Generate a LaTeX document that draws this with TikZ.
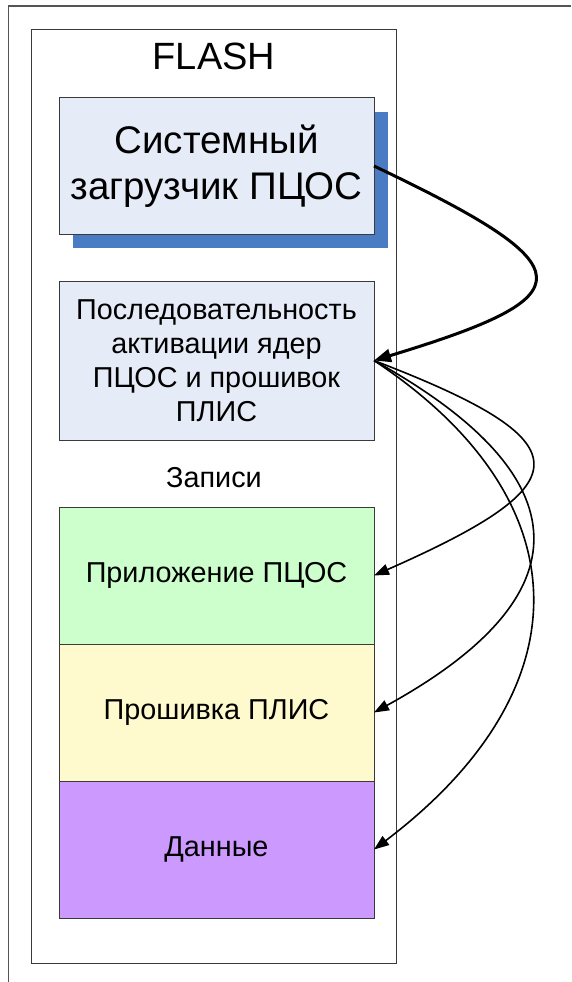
\documentclass[tikz,border=0pt]{standalone}
\usepackage{fontspec}
\setmainfont{Liberation Sans}
\usetikzlibrary{arrows.meta}

\definecolor{framegray}{HTML}{555555}
\definecolor{boxedge}{HTML}{3A3A3A}
\definecolor{paleblue}{HTML}{E6ECF7}
\definecolor{shadowblue}{HTML}{4A7CC3}
\definecolor{palegreen}{HTML}{CCFFCC}
\definecolor{paleyellow}{HTML}{FFF9CE}
\definecolor{lilac}{HTML}{CC99FF}

\tikzset{
  memblock/.style={draw=boxedge, line width=0.9pt, minimum width=315pt,
    inner sep=0pt, outer sep=0pt, align=center,
    font=\fontsize{28.8}{34}\selectfont},
  bigtext/.style={font=\fontsize{38.5}{46}\selectfont},
  link/.style={line width=1.6pt, -{Triangle[length=15pt,width=11pt]}},
  mainlink/.style={line width=3pt, -{Triangle[length=17pt,width=13pt]}}
}

\begin{document}
\begin{tikzpicture}[x=1pt, y=-1pt]
  \useasboundingbox (0,0) rectangle (571,982);
  \fill[white] (0,0) rectangle (571,982);

  % outer page frame
  \draw[framegray, line width=1.5pt] (8.5,982) -- (8.5,6) -- (571,6);

  % FLASH container
  \node[draw=boxedge, line width=0.9pt, minimum width=365pt, minimum height=934pt,
        inner sep=0pt, outer sep=0pt] (flash) at (214.2,496) {};
  \node[font=\fontsize{38}{46}\selectfont, anchor=base] (flashlabel) at (214,70) {FLASH};

  % system loader with drop shadow
  \fill[shadowblue] (72.5,111.5) rectangle (388,248);
  \node[memblock, bigtext, fill=paleblue, minimum height=137pt] (boot)
        at (216.5,166) {Системный\\загрузчик ПЦОС};

  % activation sequence
  \node[memblock, fill=paleblue, minimum height=159pt] (seq)
        at (216.5,360.5) {Последовательность\\активации ядер\\ПЦОС и прошивок\\ПЛИС};

  \node[font=\fontsize{28.8}{34}\selectfont, anchor=base] (records) at (214,487) {Записи};

  % record blocks
  \node[memblock, fill=palegreen, minimum height=137pt] (app)
        at (216.5,575.5) {Приложение ПЦОС};
  \node[memblock, fill=paleyellow, minimum height=137pt] (fw)
        at (216.5,712.5) {Прошивка ПЛИС};
  \node[memblock, fill=lilac, minimum height=137pt] (data)
        at (216.5,849.5) {Данные};

  % connectors
  \draw[mainlink] (boot.east) .. controls +(214,102) and +(214,-65) .. (seq.east);
  \draw[link] (seq.east) .. controls +(211,81) and +(211,-93) .. (app.east);
  \draw[link] (seq.east) .. controls +(211,117) and +(211,-116) .. (fw.east);
  \draw[link] (seq.east) .. controls +(211,140) and +(211,-160) .. (data.east);
\end{tikzpicture}
\end{document}
